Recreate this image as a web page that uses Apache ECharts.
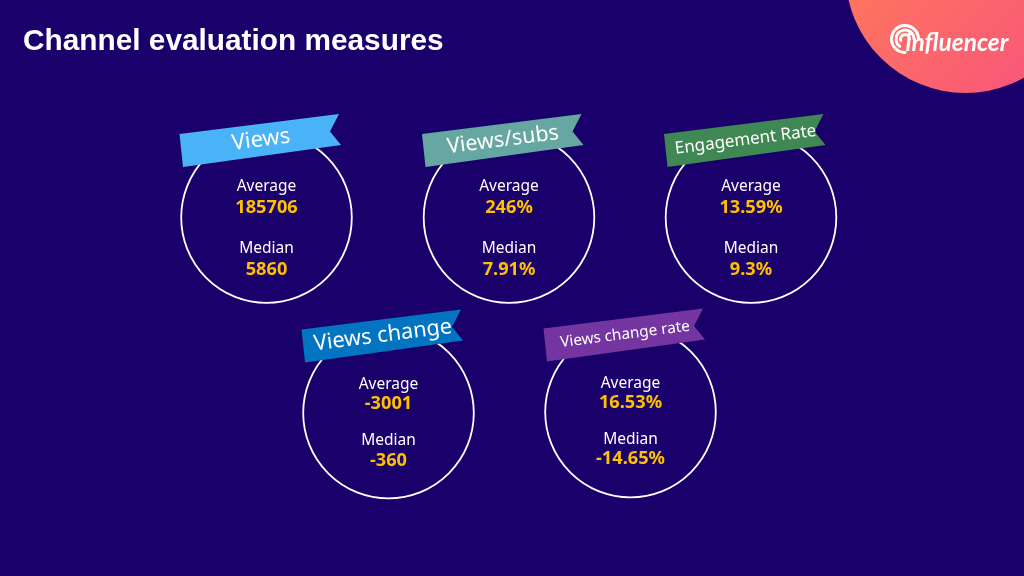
<!DOCTYPE html>
<html>
<head>
<meta charset="utf-8">
<title>Channel evaluation measures</title>
<script src="https://cdn.jsdelivr.net/npm/echarts@6/dist/echarts.min.js"></script>
<style>
  html, body { margin: 0; padding: 0; background: #1a006b; }
  #chart { width: 1024px; height: 576px; }
</style>
</head>
<body>
<div id="chart"></div>
<script>
  const titleText = "Channel evaluation measures";
  const measures = ["Views", "Views/subs", "Engagement Rate", "Views change", "Views change rate"];
  const averages = ["185706", "246%", "13.59%", "-3001", "16.53%"];
  const medians = ["5860", "7.91%", "9.3%", "-360", "-14.65%"];
  const averageLabel = "Average";
  const medianLabel = "Median";
  const logoText = "influencer";

  // layout, one entry per measure
  const centers = [[266.5, 217.5], [509, 217.5], [751, 217.5], [388.5, 413], [630.5, 412]];
  const ribbonColors = ["#4ab3f7", "#67a7a1", "#3f8753", "#0274c1", "#7535a1"];
  const ribbonFonts = [22, 21.5, 17, 21.8, 15.3];
  const ribbonTextX = [-5.5, -6, -5.5, -5.5, -5.5];
  const textRows = [
    [-31, -10, 31, 52],
    [-31, -10, 31, 52],
    [-31, -10, 31, 52],
    [-28.5, -9.5, 27.5, 47.5],
    [-28.5, -9.5, 27.5, 46.5]
  ];

  const ribbonShape = [[-87, -83.5], [72.5, -103.5], [63.5, -86], [74.5, -72.5], [-83.5, -50.5]];
  const tilt = (7.3 * Math.PI) / 180;
  const fontFamily = "'Noto Sans', sans-serif";

  const label = (x, y, text, size, fill, weight, rotation) => ({
    type: "text",
    x: x,
    y: y,
    rotation: rotation || 0,
    z: 5,
    style: {
      text: text,
      fill: fill,
      font: `${weight || "normal"} ${size}px ${fontFamily}`,
      textAlign: "center",
      textVerticalAlign: "middle"
    }
  });

  const cards = measures.flatMap((name, i) => {
    const [cx, cy] = centers[i];
    const rows = textRows[i];
    return [
      {
        type: "circle",
        z: 2,
        shape: { cx: cx, cy: cy, r: 85.3 },
        style: { fill: "transparent", stroke: "#ffffff", lineWidth: 1.8 }
      },
      {
        type: "polygon",
        z: 3,
        x: cx,
        y: cy,
        shape: { points: ribbonShape },
        style: { fill: ribbonColors[i] }
      },
      label(cx + ribbonTextX[i], cy - 77.5, name, ribbonFonts[i], "#ffffff", "normal", tilt),
      label(cx, cy + rows[0], averageLabel, 15.5, "#ffffff"),
      label(cx, cy + rows[1], averages[i], 18.2, "#ffc000", "bold"),
      label(cx, cy + rows[2], medianLabel, 15.5, "#ffffff"),
      label(cx, cy + rows[3], medians[i], 18.2, "#ffc000", "bold")
    ];
  });

  // signal arcs of the logo, open towards the lower right
  const logoArcs = [[13.5, 0.5], [9, 0.7], [4.5, 0.9]].map(([r, from]) => ({
    type: "arc",
    z: 6,
    shape: { cx: 905, cy: 39, r: r, startAngle: Math.PI * from, endAngle: Math.PI * 2 },
    style: { stroke: "#ffffff", fill: "none", lineWidth: 3, lineCap: "round" }
  }));

  const logo = [
    {
      type: "circle",
      z: 1,
      shape: { cx: 965.5, cy: -27, r: 120 },
      style: {
        fill: new echarts.graphic.LinearGradient(0, 0, 1, 1, [
          { offset: 0, color: "#ff8552" },
          { offset: 1, color: "#f9507e" }
        ])
      }
    },
    ...logoArcs,
    {
      type: "text",
      x: 905.5,
      y: 55.5,
      z: 6,
      style: {
        text: logoText,
        fill: "#ffffff",
        font: "italic bold 24.5px Lato, sans-serif",
        textAlign: "left",
        textVerticalAlign: "bottom"
      }
    }
  ];

  const chart = echarts.init(document.getElementById("chart"));
  chart.setOption({
    backgroundColor: "#1a006b",
    animation: false,
    title: {
      text: titleText,
      left: 23,
      top: 26.5,
      padding: 0,
      textStyle: {
        color: "#ffffff",
        fontFamily: "'Liberation Sans', Arial, sans-serif",
        fontWeight: "bold",
        fontSize: 29.8
      }
    },
    graphic: { elements: [...logo, ...cards] }
  });
</script>
</body>
</html>
